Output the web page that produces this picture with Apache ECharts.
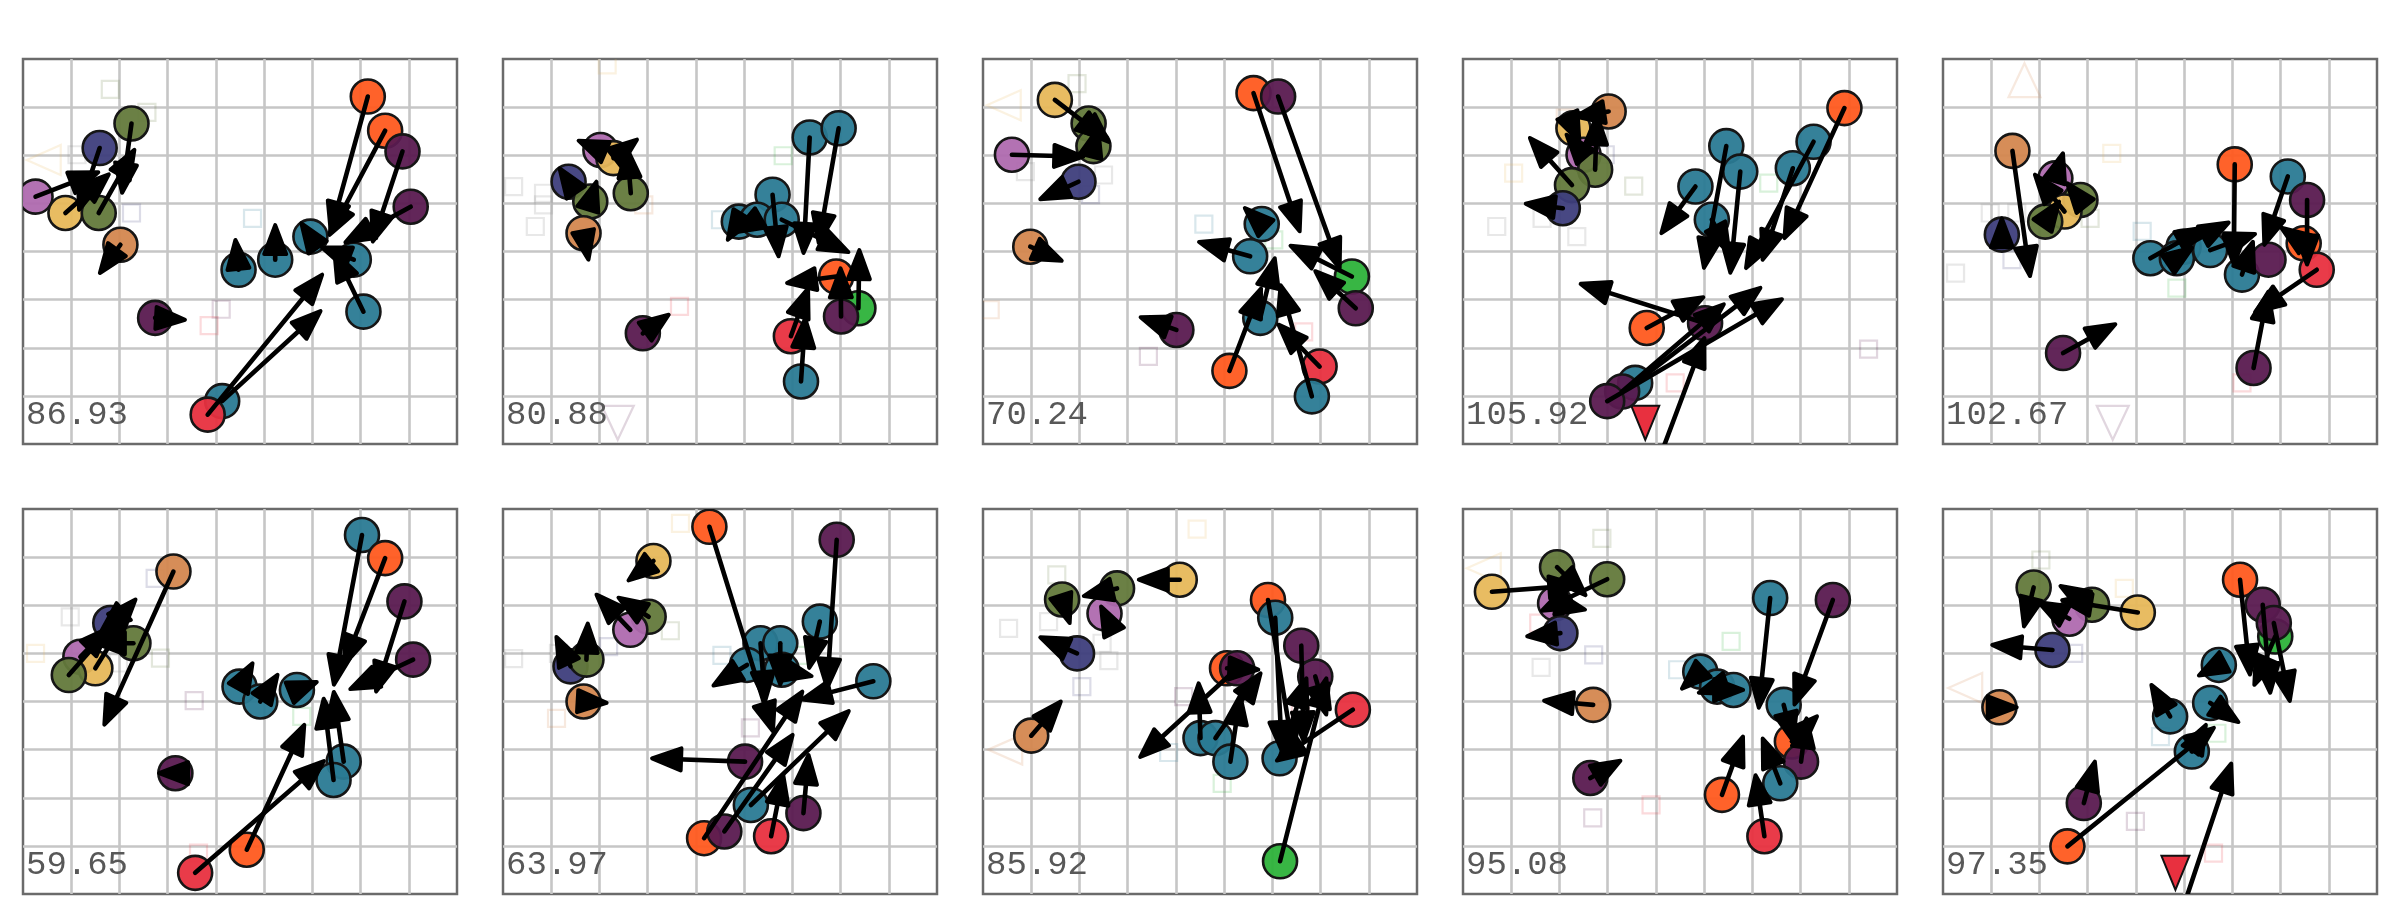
<!DOCTYPE html>
<html><head><meta charset="utf-8">
<script src="https://cdn.jsdelivr.net/npm/echarts/dist/echarts.min.js"></script>
<style>html,body{margin:0;padding:0;background:#fff}#c{width:2400px;height:900px}</style>
</head><body><div id="c"></div>
<script>
// ---- data (grid units: x 0..9, y 0..8) ----
const labels = ['86.93','80.88','70.24','105.92','102.67','59.65','63.97','85.92','95.08','97.35'];

// circles: [x, y, colour]
const circles1 = [[0.26,5.14,'V'],[0.88,4.80,'Y'],[1.57,4.80,'G'],[1.59,6.15,'N'],[2.25,6.66,'G'],[2.02,4.14,'C'],[2.74,2.62,'P'],[7.15,7.22,'O'],[7.51,6.51,'O'],[7.87,6.08,'P'],[8.04,4.93,'P'],[4.47,3.62,'T'],[5.23,3.83,'T'],[5.96,4.31,'T'],[6.86,3.83,'T'],[7.06,2.75,'T'],[4.13,0.89,'T'],[3.83,0.61,'R']];
const arrows1 = [[0.26,5.14,1.60,5.66],[0.88,4.80,1.81,5.63],[1.59,6.15,1.15,4.83],[1.57,4.80,2.33,6.15],[2.25,6.66,2.05,5.18],[2.02,4.14,1.57,3.52],[2.74,2.62,3.40,2.58],[7.15,7.22,6.37,4.38],[7.51,6.51,6.34,4.31],[7.87,6.08,7.24,4.17],[8.04,4.93,6.65,4.17],[4.47,3.62,4.40,4.28],[5.23,3.83,5.23,4.59],[5.96,4.31,5.75,4.62],[6.86,3.83,6.16,4.10],[7.06,2.75,6.44,4.03],[4.13,0.89,6.20,2.79],[3.83,0.61,6.23,3.55]];
const marks1 = [[1.81,7.37,'G','s'],[2.57,6.89,'G','s'],[1.12,6.01,'K','s'],[2.25,4.80,'N','s'],[4.76,4.69,'T','s'],[4.11,2.80,'P','s'],[3.86,2.46,'R','s'],[0.43,5.90,'Y','l']];

const circles2 = [[2.02,6.11,'V'],[2.29,5.94,'Y'],[1.36,5.45,'N'],[2.65,5.21,'G'],[1.81,5.04,'G'],[1.67,4.38,'C'],[2.90,2.30,'P'],[6.36,6.37,'T'],[6.96,6.56,'T'],[5.59,5.18,'T'],[4.89,4.62,'T'],[5.27,4.66,'T'],[5.78,4.66,'T'],[6.91,3.48,'O'],[7.37,2.82,'L'],[7.01,2.65,'P'],[5.97,2.24,'R'],[6.18,1.30,'T']];
const arrows2 = [[2.02,6.11,1.53,6.32],[2.29,5.94,2.81,6.35],[1.36,5.45,1.15,5.76],[2.65,5.21,2.57,6.18],[1.81,5.04,1.95,5.49],[1.67,4.38,1.78,3.79],[2.90,2.30,3.47,2.71],[6.36,6.37,6.23,3.93],[6.96,6.56,6.54,4.14],[5.59,5.18,5.72,3.86],[4.89,4.62,4.64,4.21],[5.27,4.66,4.78,4.38],[5.78,4.66,7.20,3.97],[6.91,3.48,5.85,3.34],[7.37,2.82,7.39,4.07],[7.01,2.65,7.00,3.69],[5.97,2.24,6.34,3.27],[6.18,1.30,6.27,2.65]];
const marks2 = [[0.22,5.35,'K','s'],[0.84,5.21,'K','s'],[0.84,4.97,'K','s'],[0.67,4.52,'K','s'],[2.92,4.97,'C','s'],[2.16,7.88,'Y','s'],[5.81,5.99,'L','s'],[3.66,2.86,'R','s'],[4.51,4.66,'T','s'],[2.38,0.44,'P','d']];

const circles3 = [[1.49,7.15,'Y'],[2.19,6.66,'G'],[2.29,6.19,'G'],[0.60,6.01,'V'],[1.98,5.45,'N'],[0.98,4.10,'C'],[4.01,2.37,'P'],[5.61,7.29,'O'],[6.12,7.22,'P'],[5.78,4.57,'T'],[5.54,3.90,'T'],[7.65,3.48,'L'],[7.73,2.82,'P'],[5.75,2.62,'T'],[5.11,1.52,'O'],[6.98,1.61,'R'],[6.82,0.99,'T']];
const arrows3 = [[1.49,7.15,2.57,6.32],[2.19,6.66,2.64,6.25],[2.29,6.19,2.40,6.60],[0.60,6.01,2.12,5.97],[1.98,5.45,1.15,5.07],[0.98,4.10,1.67,3.79],[4.01,2.37,3.23,2.65],[5.61,7.29,6.58,4.38],[6.12,7.22,7.41,3.62],[5.78,4.57,5.40,4.93],[5.54,3.90,4.44,4.21],[7.65,3.48,6.34,4.14],[7.73,2.82,6.86,3.62],[5.75,2.62,6.06,3.90],[5.11,1.52,5.78,3.27],[6.98,1.61,6.10,2.51],[6.82,0.99,6.16,3.34]];
const marks3 = [[0.43,7.04,'Y','l'],[1.95,7.49,'G','s'],[0.88,5.66,'K','s'],[2.50,5.59,'K','s'],[2.23,5.18,'N','s'],[4.58,4.57,'T','s'],[6.03,4.24,'L','s'],[0.15,2.79,'C','s'],[6.65,2.33,'R','s'],[3.43,1.82,'P','s']];

const circles4 = [[3.02,6.91,'C'],[2.29,6.56,'Y'],[2.50,6.01,'V'],[2.74,5.70,'G'],[2.26,5.38,'G'],[2.07,4.90,'N'],[5.46,6.19,'T'],[5.75,5.66,'T'],[4.82,5.35,'T'],[7.27,6.28,'T'],[6.84,5.73,'T'],[7.91,6.98,'O'],[5.16,4.66,'T'],[3.81,2.41,'O'],[5.02,2.51,'P'],[3.57,1.27,'T'],[3.30,1.09,'P'],[2.99,0.89,'P']];
const arrows4 = [[3.02,6.91,2.29,6.80],[2.29,6.56,2.43,6.25],[2.50,6.01,2.12,6.46],[2.74,5.70,2.78,6.87],[2.26,5.38,1.36,6.39],[2.07,4.90,1.26,5.00],[5.46,6.19,4.99,3.62],[5.75,5.66,5.54,3.52],[4.82,5.35,4.09,4.35],[7.27,6.28,5.85,3.62],[6.84,5.73,6.20,3.79],[7.91,6.98,6.65,4.24],[5.16,4.66,5.54,3.95],[3.81,2.41,5.02,3.07],[5.02,2.51,2.40,3.34],[3.57,1.27,6.20,3.27],[3.30,1.09,5.44,2.93],[2.99,0.89,6.65,3.03],[4.09,-0.25,5.02,2.24]];
const marks4 = [[2.12,6.77,'C','s'],[1.05,5.63,'Y','s'],[2.95,6.01,'N','s'],[3.54,5.36,'G','s'],[0.70,4.52,'K','s'],[1.64,4.69,'K','s'],[2.36,4.31,'K','s'],[6.34,5.42,'L','s'],[8.41,1.97,'P','s'],[4.40,1.27,'R','s'],[3.78,0.44,'R','D']];

const circles5 = [[1.44,6.09,'C'],[2.33,5.52,'V'],[2.85,5.07,'G'],[2.52,4.83,'Y'],[2.12,4.62,'G'],[1.22,4.35,'N'],[2.49,1.89,'P'],[6.05,5.81,'O'],[7.15,5.56,'T'],[7.55,5.07,'P'],[7.48,4.17,'O'],[4.30,3.86,'T'],[4.99,4.10,'T'],[4.85,3.86,'T'],[5.54,4.03,'T'],[6.20,3.52,'T'],[6.75,3.83,'P'],[7.75,3.62,'R'],[6.44,1.58,'P']];
const arrows5 = [[1.44,6.09,1.81,3.45],[2.33,5.52,2.50,6.08],[2.85,5.07,2.55,5.45],[2.52,4.83,1.88,5.63],[2.12,4.62,2.43,5.07],[1.22,4.35,1.22,4.73],[2.49,1.89,3.61,2.51],[6.05,5.81,6.03,3.69],[7.15,5.56,6.65,4.10],[7.55,5.07,7.55,3.69],[7.48,4.17,6.98,4.52],[4.30,3.86,5.47,4.52],[4.99,4.10,5.96,4.62],[4.85,3.86,5.20,4.10],[5.54,4.03,6.51,4.38],[6.20,3.52,6.44,4.24],[7.75,3.62,6.44,2.72],[6.44,1.58,6.75,3.20]];
const marks5 = [[1.69,7.56,'C','u'],[3.52,0.44,'P','d'],[3.50,6.04,'Y','s'],[0.98,4.80,'K','s'],[1.53,4.80,'K','s'],[3.05,4.69,'G','s'],[4.13,4.42,'T','s'],[0.26,3.55,'K','s'],[1.43,3.83,'N','s'],[4.85,3.24,'L','s'],[6.20,1.27,'R','s']];

const circles6 = [[3.12,6.70,'C'],[1.81,5.63,'N'],[2.29,5.21,'G'],[1.19,4.93,'V'],[1.50,4.69,'Y'],[0.95,4.55,'G'],[3.16,2.51,'P'],[7.03,7.46,'T'],[7.51,6.98,'O'],[7.91,6.08,'P'],[8.09,4.87,'P'],[4.49,4.31,'T'],[4.92,4.00,'T'],[5.68,4.24,'T'],[6.65,2.75,'T'],[6.44,2.37,'T'],[4.64,0.92,'O'],[3.57,0.44,'R']];
const arrows6 = [[3.12,6.70,1.67,3.48],[1.81,5.63,1.60,5.45],[2.29,5.21,1.47,5.21],[1.19,4.93,1.81,5.56],[1.50,4.69,2.16,5.76],[0.95,4.55,2.36,6.15],[3.16,2.51,2.78,2.51],[7.03,7.46,6.44,4.31],[7.51,6.98,6.65,4.73],[7.91,6.08,7.31,4.17],[8.09,4.87,6.75,4.24],[4.49,4.31,4.78,4.83],[4.92,4.00,5.30,4.59],[5.68,4.24,6.13,4.42],[6.65,2.75,6.44,4.24],[6.44,2.37,6.23,4.10],[4.64,0.92,5.85,3.55],[3.57,0.44,6.27,2.79]];
const marks6 = [[0.98,5.76,'K','s'],[0.26,5.00,'Y','s'],[2.74,6.56,'N','s'],[1.98,4.80,'K','s'],[2.85,4.90,'G','s'],[3.55,4.02,'P','s'],[5.78,3.69,'L','s'],[3.64,0.85,'R','s'],[1.81,5.73,'C','s']];

const circles7 = [[3.12,6.92,'Y'],[3.02,5.76,'G'],[2.64,5.49,'V'],[1.40,4.73,'N'],[1.73,4.87,'G'],[1.67,4.00,'C'],[4.28,7.63,'O'],[6.92,7.36,'P'],[6.57,5.66,'T'],[5.34,5.21,'T'],[5.75,5.21,'T'],[5.78,4.66,'T'],[5.06,4.76,'T'],[7.68,4.42,'T'],[5.02,2.75,'P'],[5.14,1.85,'T'],[4.17,1.16,'O'],[4.59,1.30,'P'],[5.56,1.20,'R'],[6.23,1.68,'P']];
const arrows7 = [[3.12,6.92,2.57,6.49],[3.02,5.76,2.36,6.18],[2.64,5.49,1.91,6.25],[1.40,4.73,1.09,5.38],[1.73,4.87,1.76,5.66],[1.67,4.00,2.19,3.97],[4.28,7.63,5.61,3.34],[6.92,7.36,6.72,4.24],[6.57,5.66,6.34,4.66],[5.34,5.21,5.44,3.97],[5.75,5.21,5.75,4.31],[5.78,4.66,6.44,4.52],[5.06,4.76,4.33,4.31],[7.68,4.42,6.16,4.03],[5.02,2.75,3.05,2.82],[5.14,1.85,7.20,3.83],[4.17,1.16,6.23,4.24],[4.59,1.30,6.03,3.34],[5.56,1.20,5.82,2.51],[6.23,1.68,6.34,2.93]];
const marks7 = [[3.68,7.70,'Y','s'],[3.47,5.47,'G','s'],[2.19,5.14,'N','s'],[1.15,5.00,'K','s'],[0.22,4.89,'K','s'],[4.54,4.96,'T','s'],[6.20,4.96,'L','s'],[1.11,3.65,'C','s'],[5.13,3.45,'P','s']];

const circles8 = [[4.08,6.53,'Y'],[1.64,6.12,'G'],[2.78,6.35,'G'],[2.52,5.83,'V'],[1.95,5.00,'N'],[1.00,3.29,'C'],[5.91,6.11,'O'],[6.06,5.74,'T'],[6.60,5.16,'P'],[6.89,4.52,'P'],[5.06,4.69,'O'],[5.27,4.69,'P'],[4.51,3.24,'T'],[4.82,3.24,'T'],[5.13,2.75,'T'],[6.15,2.82,'T'],[7.67,3.83,'R'],[6.16,0.68,'L']];
const arrows8 = [[4.08,6.53,3.19,6.53],[1.64,6.12,1.81,5.59],[2.78,6.35,2.05,6.18],[2.52,5.83,2.43,6.01],[1.95,5.00,1.15,5.35],[1.00,3.29,1.64,4.03],[5.91,6.11,6.44,2.93],[6.06,5.74,6.20,2.93],[6.60,5.16,6.65,3.13],[6.89,4.52,7.13,3.69],[5.06,4.69,5.75,4.66],[5.27,4.69,3.23,2.82],[4.51,3.24,4.47,4.42],[4.82,3.24,5.78,4.62],[5.13,2.75,5.34,4.17],[6.15,2.82,6.72,4.52],[7.67,3.83,6.06,2.75],[6.16,0.68,7.13,4.52]];
const marks8 = [[4.44,7.58,'Y','s'],[1.53,6.63,'G','s'],[0.53,5.52,'K','s'],[1.36,5.66,'K','s'],[2.47,5.21,'K','s'],[2.61,4.85,'K','s'],[2.05,4.31,'N','s'],[4.16,4.10,'P','s'],[3.85,2.94,'T','s'],[4.96,2.30,'L','s'],[6.58,3.83,'R','s'],[0.46,3.00,'C','l']];

const circles9 = [[0.60,6.28,'Y'],[1.95,6.79,'G'],[2.99,6.54,'G'],[1.91,6.04,'V'],[2.02,5.42,'N'],[2.70,3.93,'C'],[2.64,2.41,'P'],[6.37,6.15,'T'],[7.67,6.11,'P'],[4.92,4.62,'T'],[5.27,4.31,'T'],[5.61,4.24,'T'],[6.65,3.93,'T'],[6.82,3.17,'O'],[7.01,2.75,'P'],[6.58,2.30,'T'],[5.37,2.06,'O'],[6.25,1.20,'R']];
const arrows9 = [[0.60,6.28,2.43,6.42],[1.95,6.79,2.57,6.18],[2.99,6.54,1.60,5.87],[1.91,6.04,2.57,5.90],[2.02,5.42,1.29,5.35],[2.70,3.93,1.64,4.02],[2.64,2.41,3.30,2.79],[6.37,6.15,6.13,3.83],[7.67,6.11,6.86,3.90],[4.92,4.62,4.51,4.24],[5.27,4.31,4.85,4.17],[5.61,4.24,5.85,4.24],[6.65,3.93,6.86,3.13],[6.82,3.17,7.37,3.72],[7.01,2.75,7.13,3.69],[6.58,2.30,6.20,3.27],[5.37,2.06,5.82,3.31],[6.25,1.20,6.06,2.51]];
const marks9 = [[0.43,6.77,'Y','l'],[2.88,7.39,'G','s'],[1.57,5.63,'R','s'],[2.71,4.97,'N','s'],[1.62,4.71,'K','s'],[4.45,4.66,'T','s'],[5.56,5.25,'L','s'],[3.90,1.85,'R','s'],[2.69,1.58,'P','s']];

const circles10 = [[1.88,6.37,'G'],[3.09,6.01,'G'],[4.04,5.85,'Y'],[2.62,5.72,'V'],[2.27,5.07,'N'],[1.17,3.88,'C'],[2.92,1.89,'P'],[2.58,0.99,'O'],[6.16,6.53,'O'],[6.89,5.35,'L'],[6.63,6.01,'P'],[6.86,5.63,'P'],[5.72,4.76,'T'],[5.54,3.97,'T'],[4.71,3.69,'T'],[5.16,2.96,'T']];
const arrows10 = [[1.88,6.37,1.67,5.52],[3.09,6.01,2.40,6.42],[4.04,5.85,2.43,6.11],[2.62,5.72,1.95,6.08],[2.27,5.07,0.98,5.18],[1.17,3.88,1.57,3.88],[2.92,1.89,3.16,2.79],[2.58,0.99,5.65,3.48],[6.16,6.53,6.37,4.52],[6.63,6.01,6.79,4.14],[6.86,5.63,7.20,3.97],[6.89,5.35,6.44,4.31],[5.72,4.76,5.27,4.52],[5.54,3.97,6.16,3.55],[4.71,3.69,4.30,4.38],[5.16,2.96,5.47,3.55],[4.99,-0.25,5.99,2.75]];
const marks10 = [[2.03,6.94,'G','s'],[3.76,6.35,'Y','s'],[2.71,5.00,'N','s'],[4.51,3.27,'T','s'],[5.68,3.34,'L','s'],[3.99,1.51,'P','s'],[5.61,0.85,'R','s'],[0.46,4.28,'C','l'],[4.82,0.44,'R','D']];

const allCircles = [circles1,circles2,circles3,circles4,circles5,circles6,circles7,circles8,circles9,circles10];
const allArrows = [arrows1,arrows2,arrows3,arrows4,arrows5,arrows6,arrows7,arrows8,arrows9,arrows10];
const allMarks = [marks1,marks2,marks3,marks4,marks5,marks6,marks7,marks8,marks9,marks10];

// ---- styling ----
const COLORS = {O:'#FF5A1F',R:'#E8303F',T:'#2A7A94',P:'#5A1A50',G:'#63793B',N:'#3E3E7C',V:'#AF6AAF',Y:'#E7B85A',C:'#D4874F',L:'#2DB23A',K:'#8c8c8c'};
function rgba(hex,a){const n=parseInt(hex.slice(1),16);return `rgba(${n>>16},${(n>>8)&255},${n&255},${a})`;}
const colLeft=[23,503,983,1463,1943], rowTop=[59,509], W=434, H=385;

function markRender(list){return function(params,api){
  const m=list[params.dataIndex]; const p=api.coord([m[0],m[1]]); const x=p[0], y=p[1];
  const st={fill:'none',stroke:rgba(COLORS[m[2]],m[2]==='K'?0.2:0.18),lineWidth:2.2};
  if(m[3]==='s') return {type:'rect',shape:{x:x-8.5,y:y-8.5,width:17,height:17},style:st};
  if(m[3]==='l') return {type:'polygon',shape:{points:[[x-17,y],[x+17,y-15],[x+17,y+15]]},style:st};
  if(m[3]==='u') return {type:'polygon',shape:{points:[[x,y-17],[x+16,y+17],[x-16,y+17]]},style:st};
  if(m[3]==='d') return {type:'polygon',shape:{points:[[x,y+17],[x+16,y-17],[x-16,y-17]]},style:st};
  return {type:'polygon',shape:{points:[[x,y+17],[x+14,y-17],[x-14,y-17]]},style:{fill:COLORS[m[2]],stroke:'#111',lineWidth:2}};
};}
function circleRender(list){return function(params,api){
  const c=list[params.dataIndex]; const p=api.coord([c[0],c[1]]);
  return {type:'circle',shape:{cx:p[0],cy:p[1],r:17},style:{fill:rgba(COLORS[c[2]],0.95),stroke:'#161616',lineWidth:2.6}};
};}
function arrowRender(list){return function(params,api){
  const a=list[params.dataIndex]; const p1=api.coord([a[0],a[1]]), p2=api.coord([a[2],a[3]]);
  const dx=p2[0]-p1[0], dy=p2[1]-p1[1], L=Math.hypot(dx,dy)||1, ux=dx/L, uy=dy/L;
  const hl=29, hw=11; const tx=p2[0]-ux*2, ty=p2[1]-uy*2; const bx=tx-ux*hl, by=ty-uy*hl;
  return {type:'group',children:[
    {type:'line',shape:{x1:p1[0],y1:p1[1],x2:bx+ux*4,y2:by+uy*4},style:{stroke:'#000',lineWidth:4.6,lineCap:'round'}},
    {type:'polygon',shape:{points:[[tx,ty],[bx-uy*hw,by+ux*hw],[bx+uy*hw,by-ux*hw]]},style:{fill:'#000',stroke:'#000',lineWidth:4,lineJoin:'round'}}
  ]};
};}

const grids=[],xAxes=[],yAxes=[],series=[],titles=[];
for(let i=0;i<10;i++){
  const L=colLeft[i%5], T=rowTop[Math.floor(i/5)];
  grids.push({left:L,top:T,width:W,height:H,show:true,backgroundColor:'#fff',borderColor:'#6b6b6b',borderWidth:2.5,containLabel:false});
  const ax={gridIndex:i,type:'value',min:0,interval:1,axisLine:{show:false},axisTick:{show:false},axisLabel:{show:false},
    splitLine:{show:true,showMinLine:false,showMaxLine:false,lineStyle:{color:'#c6c6c6',width:2.6}}};
  xAxes.push(Object.assign({},ax,{max:9}));
  yAxes.push(Object.assign({},ax,{max:8}));
  const base={type:'custom',xAxisIndex:i,yAxisIndex:i,clip:true,silent:true,animation:false};
  series.push(Object.assign({},base,{z:2,data:allMarks[i].map(m=>[m[0],m[1]]),renderItem:markRender(allMarks[i])}));
  series.push(Object.assign({},base,{z:3,data:allCircles[i].map(c=>[c[0],c[1]]),renderItem:circleRender(allCircles[i])}));
  series.push(Object.assign({},base,{z:4,data:allArrows[i].map(a=>a.slice()),encode:{x:[0,2],y:[1,3]},renderItem:arrowRender(allArrows[i])}));
  titles.push({text:labels[i],left:L+3,top:T+H-46,padding:0,z:10,
    textStyle:{fontFamily:'Liberation Mono',fontSize:34,fontWeight:'normal',color:'#585858'}});
}
const chart=echarts.init(document.getElementById('c'),null,{renderer:'canvas'});
chart.setOption({animation:false,backgroundColor:'#fff',title:titles,grid:grids,xAxis:xAxes,yAxis:yAxes,series:series});
</script></body></html>
